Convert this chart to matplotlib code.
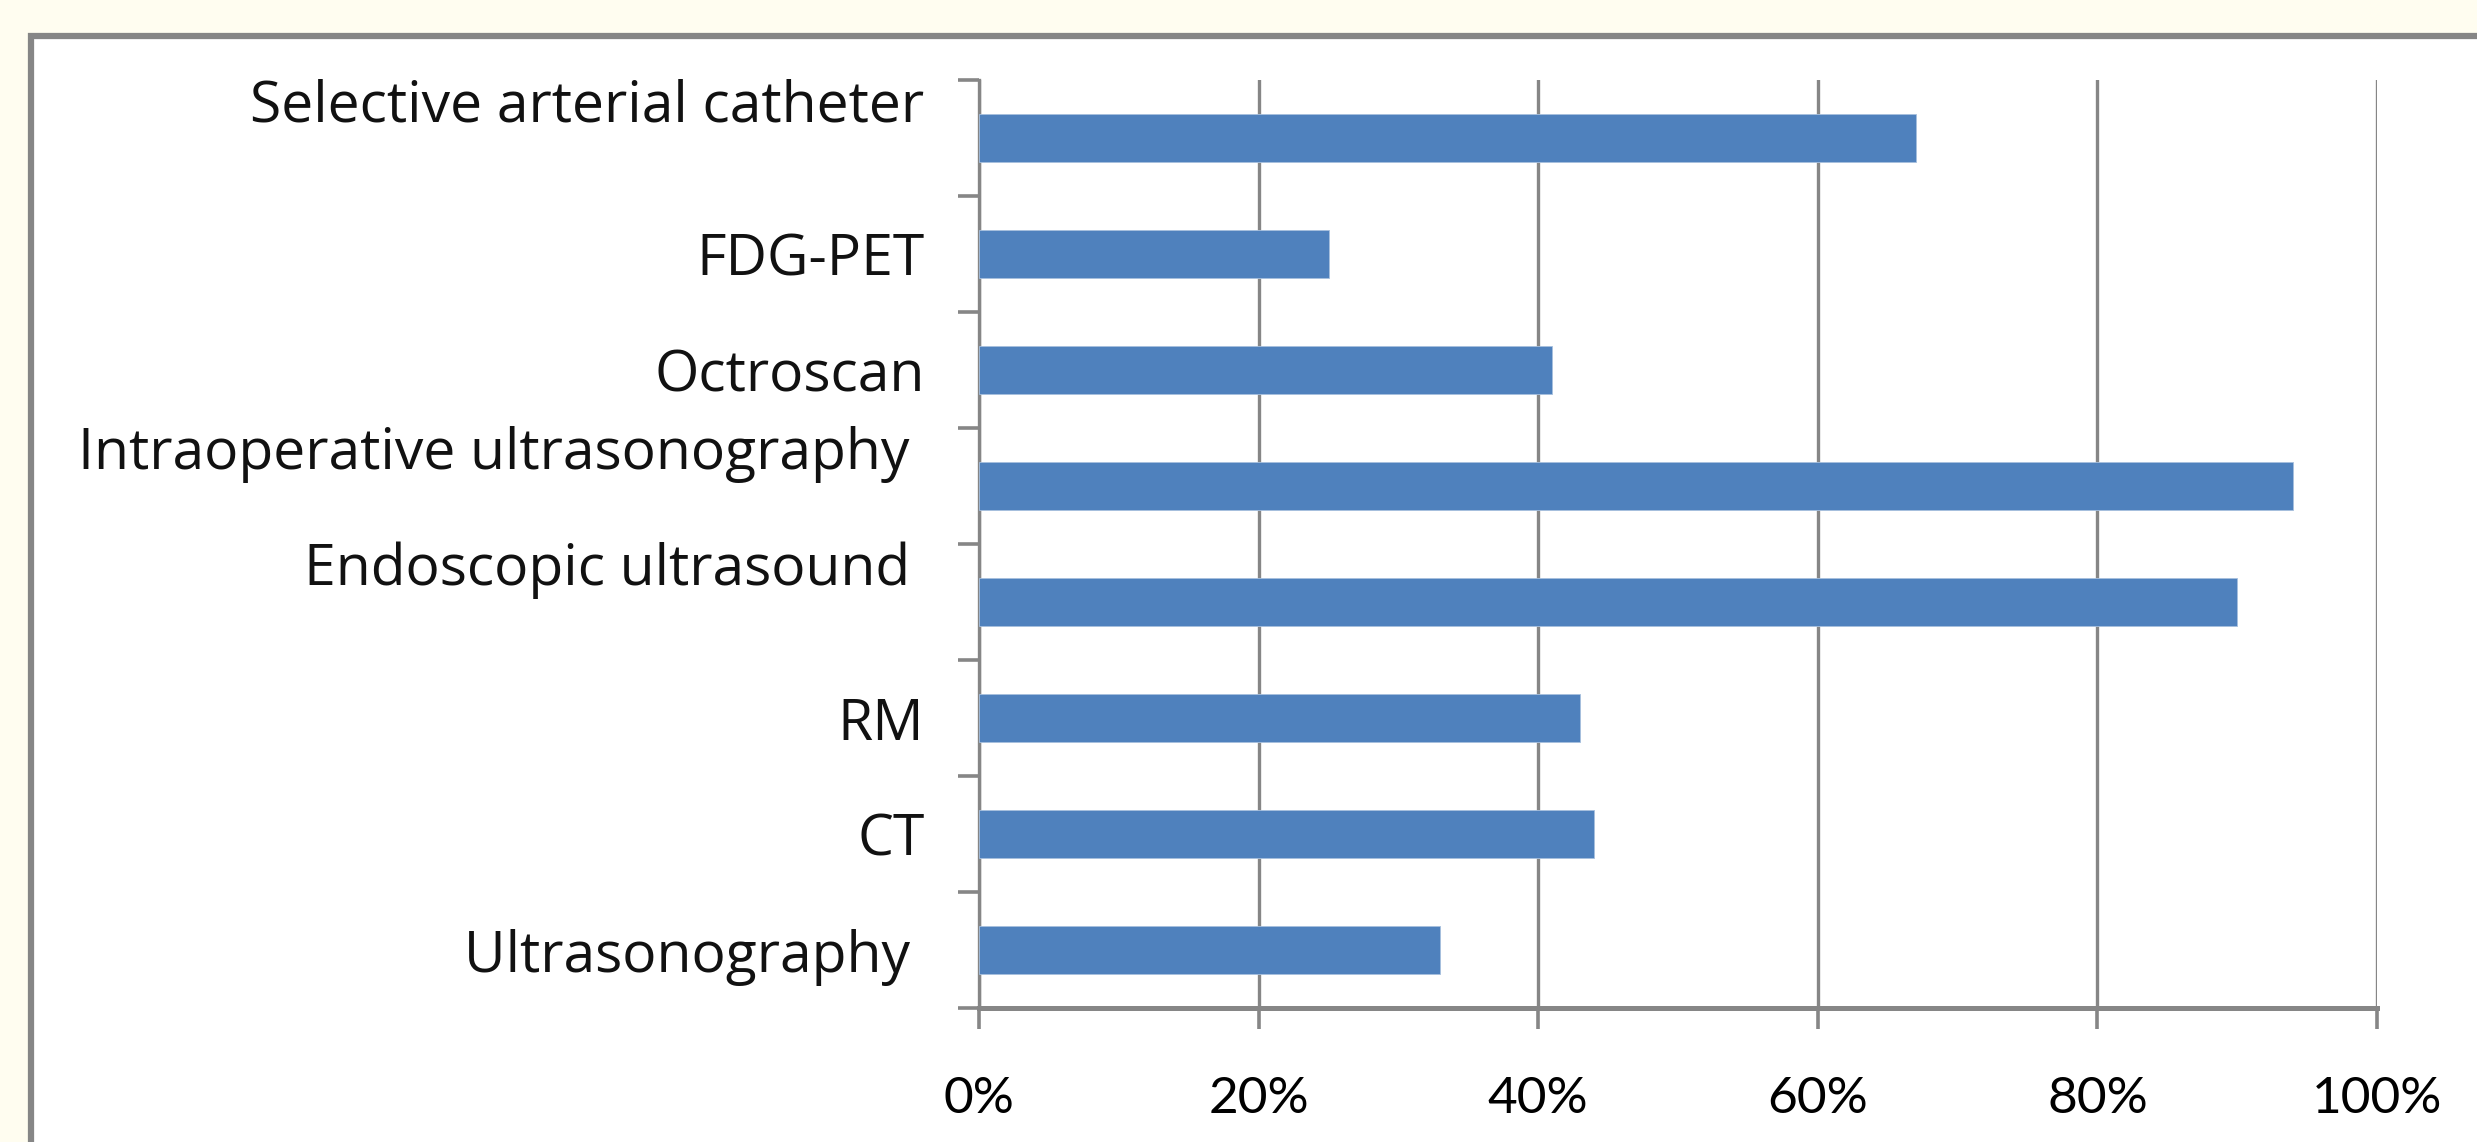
import matplotlib
matplotlib.use("Agg")
import matplotlib.pyplot as plt
from matplotlib.patches import Rectangle
from matplotlib.ticker import FixedLocator, PercentFormatter, NullFormatter

# data, bottom to top as drawn
categories = ["Ultrasonography ", "CT", "RM", "Endoscopic ultrasound ",
              "Intraoperative ultrasonography ", "Octroscan", "FDG-PET",
              "Selective arterial catheter"]
values = [33, 44, 43, 90, 94, 41, 25, 67]
# labels that Excel wrapped onto two lines (sit higher than the bar)
wrapped = ["Endoscopic ultrasound ", "Intraoperative ultrasonography ",
           "Selective arterial catheter"]
xticks = [0, 20, 40, 60, 80, 100]

plt.rcParams['font.family'] = ['Lato', 'DejaVu Sans']

W, H = 2477, 1142
fig = plt.figure(figsize=(W / 100, H / 100), dpi=100)
fig.patch.set_facecolor("#fffdf0")

# white chart area with grey frame, running off the right and bottom edges
box = Rectangle((30.5 / W, -0.2), 1.5, 1.2 - 36 / H,
                transform=fig.transFigure, facecolor="white",
                edgecolor="#868686", linewidth=4.5, zorder=-5)
fig.add_artist(box)

ax = fig.add_axes([979 / W, (H - 1008) / H, 1398 / W, 928 / H])
ax.set_facecolor("none")
ax.set_zorder(2)

grey = "#868686"
pos = list(range(len(categories)))
ax.barh(pos, values, height=0.41, color="#4f81bd", edgecolor="#a7c0de",
        linewidth=0.6, zorder=3)

ax.set_xlim(0, 100)
ax.set_ylim(-0.5, len(categories) - 0.5)

# x axis
ax.set_xticks(xticks)
ax.xaxis.set_major_formatter(PercentFormatter(decimals=0))
ax.grid(axis="x", color=grey, linewidth=2.4, zorder=1)
ax.tick_params(axis="x", length=15, width=2.6, color=grey, pad=34,
               labelsize=37)

# y axis: ticks at the category boundaries, labels drawn as text
ax.yaxis.set_major_locator(FixedLocator([p - 0.5 for p in pos] + [pos[-1] + 0.5]))
ax.yaxis.set_major_formatter(NullFormatter())
ax.tick_params(axis="y", which="major", length=15, width=2.6, color=grey)

ytr = ax.get_yaxis_transform()
for p, c in zip(pos, categories):
    dy = 0.33 if c in wrapped else 0.0
    ax.text(-0.039, p + dy, c, transform=ytr, ha="right",
            va="center_baseline", fontsize=41, color="#111111",
            family=['Open Sans', 'DejaVu Sans'])

for s in ["top", "right"]:
    ax.spines[s].set_visible(False)
ax.spines["left"].set_color(grey)
ax.spines["left"].set_linewidth(2.4)
ax.spines["bottom"].set_color(grey)
ax.spines["bottom"].set_linewidth(3.6)
ax.spines["bottom"].set_zorder(4)

fig.savefig("out.png", dpi=100, facecolor=fig.get_facecolor())
